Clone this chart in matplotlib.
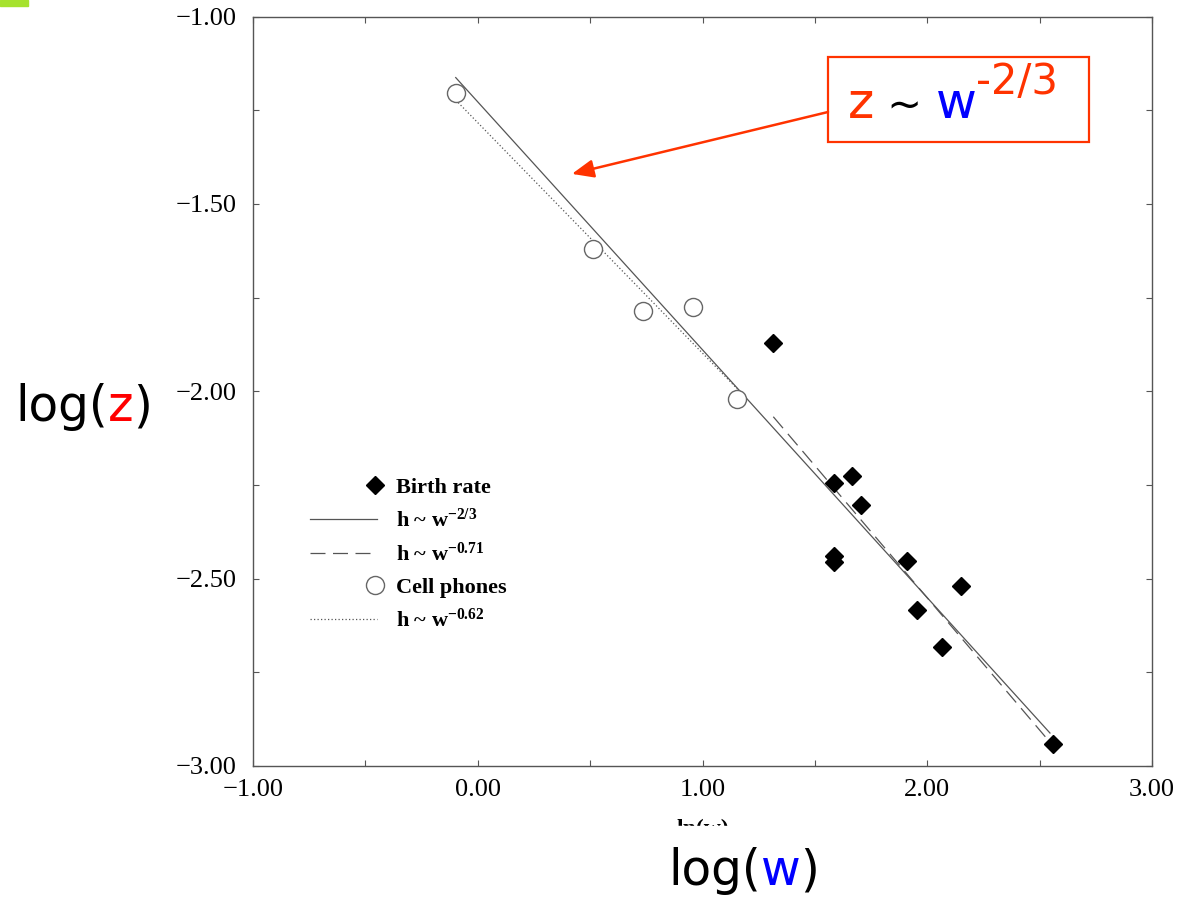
import numpy as np
import matplotlib
matplotlib.use("Agg")
import matplotlib.pyplot as plt
from matplotlib.ticker import MultipleLocator, FuncFormatter
from matplotlib.legend_handler import HandlerLine2D
from matplotlib.patches import Rectangle

# data (x = ln(w), y = log(z))
birth_x = [1.315, 1.585, 1.664, 1.707, 1.585, 1.585, 1.909, 2.149, 1.956, 2.067, 2.558]
birth_y = [-1.872, -2.246, -2.225, -2.304, -2.439, -2.456, -2.453, -2.519, -2.584, -2.682, -2.941]
cell_x = [-0.097, 0.513, 0.735, 0.956, 1.155]
cell_y = [-1.204, -1.620, -1.786, -1.776, -2.021]

# fitted lines, end points
fit23_x = [-0.098, 2.546]
fit23_y = [-1.163, -2.912]
fit071_x = [1.315, 2.531]
fit071_y = [-2.068, -2.926]
fit062_x = [-0.098, 1.167]
fit062_y = [-1.223, -2.001]

legend_labels = ["Birth rate", r"h ~ w$^{-2/3}$", r"h ~ w$^{-0.71}$",
                 "Cell phones", r"h ~ w$^{-0.62}$"]

W, H = 1177, 899
plt.rcParams["mathtext.fontset"] = "custom"
plt.rcParams["mathtext.rm"] = "Liberation Serif:bold"
plt.rcParams["mathtext.it"] = "Liberation Serif:bold"
plt.rcParams["mathtext.bf"] = "Liberation Serif:bold"

fig = plt.figure(figsize=(W / 100, H / 100), dpi=100)
ax = fig.add_axes([253 / W, 1 - 766 / H, 899 / W, 749.5 / H])

grey = "#555555"
l23, = ax.plot(fit23_x, fit23_y, color=grey, lw=0.9)
l071, = ax.plot(fit071_x, fit071_y, color=grey, lw=0.9, dashes=(12, 6))
l062, = ax.plot(fit062_x, fit062_y, color=grey, lw=0.9, dashes=(1, 1.8))
pb, = ax.plot(birth_x, birth_y, ls="none", marker="D", ms=9.5, color="black")
pc, = ax.plot(cell_x, cell_y, ls="none", marker="o", ms=13, mfc="white",
              mec="#666666", mew=1.0)

ax.set_xlim(-1, 3)
ax.set_ylim(-3, -1)
ax.xaxis.set_major_locator(MultipleLocator(1))
ax.xaxis.set_minor_locator(MultipleLocator(0.5))
ax.yaxis.set_major_locator(MultipleLocator(0.5))
ax.yaxis.set_minor_locator(MultipleLocator(0.25))
fmt = FuncFormatter(lambda v, p: f"{v:.2f}".replace("-", "\u2212"))
ax.xaxis.set_major_formatter(fmt)
ax.yaxis.set_major_formatter(fmt)
ax.tick_params(which="both", direction="in", length=4, width=0.8, color=grey,
               top=True, right=True, labelsize=19)
ax.tick_params(axis="x", pad=9)
ax.tick_params(axis="y", pad=12)
for lab in ax.get_xticklabels() + ax.get_yticklabels():
    lab.set_family("Liberation Serif")
for s in ax.spines.values():
    s.set_color(grey)
    s.set_linewidth(1.0)

ax.set_xlabel("ln(w)", family="Liberation Serif", weight="bold", fontsize=17, labelpad=13)


class RightMarker(HandlerLine2D):
    # marker at the right end of the handle, as in the original legend
    def get_xdata(self, legend, xdescent, ydescent, width, height, fontsize):
        xr = -xdescent + width * 0.97
        return np.array([xr, xr]), np.array([xr])


leg = ax.legend([pb, l23, l071, pc, l062], legend_labels,
                loc="upper left", bbox_to_anchor=(310 / W, 1 - 477 / H),
                bbox_transform=fig.transFigure, frameon=False,
                prop={"family": "Liberation Serif", "weight": "bold", "size": 16},
                handlelength=3.0, handletextpad=0.85, labelspacing=0.5,
                borderpad=0, borderaxespad=0, numpoints=1,
                handler_map={pb: RightMarker(), pc: RightMarker()})

# pieces of coloured text, placed one after the other (pixel coords, top origin)
renderer = fig.canvas.get_renderer()


def pieces(x, y, parts):
    for s, color, size, dy in parts:
        t = fig.text(x / W, 1 - (y + dy) / H, s, color=color, fontsize=size,
                     family="DejaVu Sans", ha="left", va="baseline")
        x += t.get_window_extent(renderer).width


pieces(15, 421, [("log(", "black", 35, 0), ("z", "#ff0000", 35, 0), (")", "black", 35, 0)])
pieces(668, 885, [("log(", "black", 35, 0), ("w", "#0000ff", 35, 0), (")", "black", 35, 0)])

red = "#ff3300"
fig.patches.append(Rectangle((828 / W, 1 - 142 / H), 261 / W, 85 / H,
                             transform=fig.transFigure, fill=False,
                             ec=red, lw=1.6, zorder=5))
pieces(848, 118, [("z", red, 36, 0), (" ~ ", "black", 30, 0), ("w", "#0000ff", 36, 0),
                  ("-2/3", red, 30, -24)])

ax.annotate("", xy=(0.419, -1.420), xycoords="data",
            xytext=(828, H - 112), textcoords="figure pixels",
            arrowprops=dict(arrowstyle="-|>,head_length=0.6,head_width=0.25",
                            mutation_scale=22, color=red, lw=1.8,
                            shrinkA=0, shrinkB=0))

# xlabel is cut off in the original picture
fig.patches.append(Rectangle((0.4, 1 - 842 / H), 0.3, 16 / H, transform=fig.transFigure,
                             color="white", zorder=10))
fig.patches.append(Rectangle((0, 1 - 6 / H), 28 / W, 6 / H, transform=fig.transFigure,
                             color="#a6e22e", zorder=10))

fig.savefig("out.png", dpi=100)
